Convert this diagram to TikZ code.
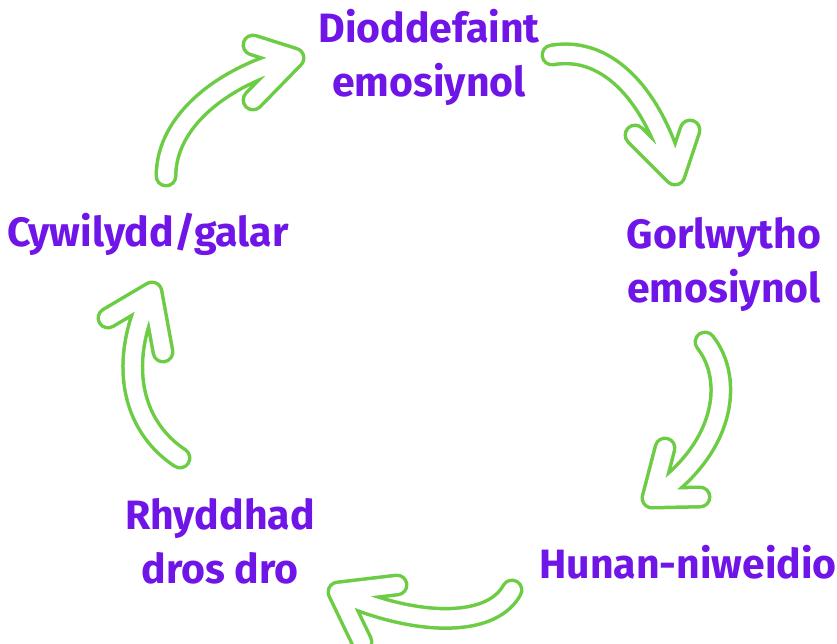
\documentclass[tikz,border=0pt]{standalone}
\usepackage{fontspec}
\setmainfont{Fira Sans}
\definecolor{cyclepurple}{HTML}{7015E8}
\definecolor{cyclegreen}{HTML}{6CCC44}

\tikzset{
  stagetext/.style={text=cyclepurple, font=\bfseries\fontsize{41}{54}\selectfont,
    align=center, inner sep=0pt, anchor=base},
  tubeout/.style={draw=cyclegreen, line width=23pt, line cap=round, line join=round},
  tubein/.style={draw=white, line width=16pt, line cap=round, line join=round},
}

% hollow curved arrow: start, control 1, control 2, tip, arm end 1, arm end 2
\newcommand\cyclearrow[6]{%
  \draw[tubeout] (#1) .. controls (#2) and (#3) .. (#4) (#4) -- (#5) (#4) -- (#6);
  \draw[tubein]  (#1) .. controls (#2) and (#3) .. (#4) (#4) -- (#5) (#4) -- (#6);
}

\begin{document}
\begin{tikzpicture}[x=1pt, y=-1pt]
  \useasboundingbox (0,0) rectangle (837,644);

  % stages of the cycle (anchored on the baseline of the last line)
  \node[stagetext] (suffer) at (429,97)  {Dioddefaint\\emosiynol};
  \node[stagetext] (overwhelm) at (724,302) {Gorlwytho\\emosiynol};
  \node[stagetext] (selfharm) at (688,578) {Hunan-niweidio};
  \node[stagetext] (relief) at (220,583) {Rhyddhad\\dros dro};
  \node[stagetext] (shame) at (148,247) {Cywilydd/galar};

  % arrow geometry
  \coordinate (a1s) at (166,176); \coordinate (a1t) at (294,58);
  \coordinate (a1p) at (253,45);  \coordinate (a1q) at (253,100);

  \coordinate (a2s) at (552,55);  \coordinate (a2t) at (675,175);
  \coordinate (a2p) at (690,130); \coordinate (a2q) at (635,135);

  \coordinate (a3s) at (705,342); \coordinate (a3t) at (652,498);
  \coordinate (a3p) at (665,448); \coordinate (a3q) at (700,497);

  \coordinate (a4s) at (512,590); \coordinate (a4t) at (338,592);
  \coordinate (a4p) at (397,585); \coordinate (a4q) at (362,642);

  \coordinate (a5s) at (180,458); \coordinate (a5t) at (152,292);
  \coordinate (a5p) at (108,318); \coordinate (a5q) at (163,352);

  \cyclearrow{a1s}{166,120}{225,75}{a1t}{a1p}{a1q}
  \cyclearrow{a2s}{610,45}{655,100}{a2t}{a2p}{a2q}
  \cyclearrow{a3s}{735,380}{725,450}{a3t}{a3p}{a3q}
  \cyclearrow{a4s}{490,630}{410,625}{a4t}{a4p}{a4q}
  \cyclearrow{a5s}{130,425}{118,360}{a5t}{a5p}{a5q}
\end{tikzpicture}
\end{document}
